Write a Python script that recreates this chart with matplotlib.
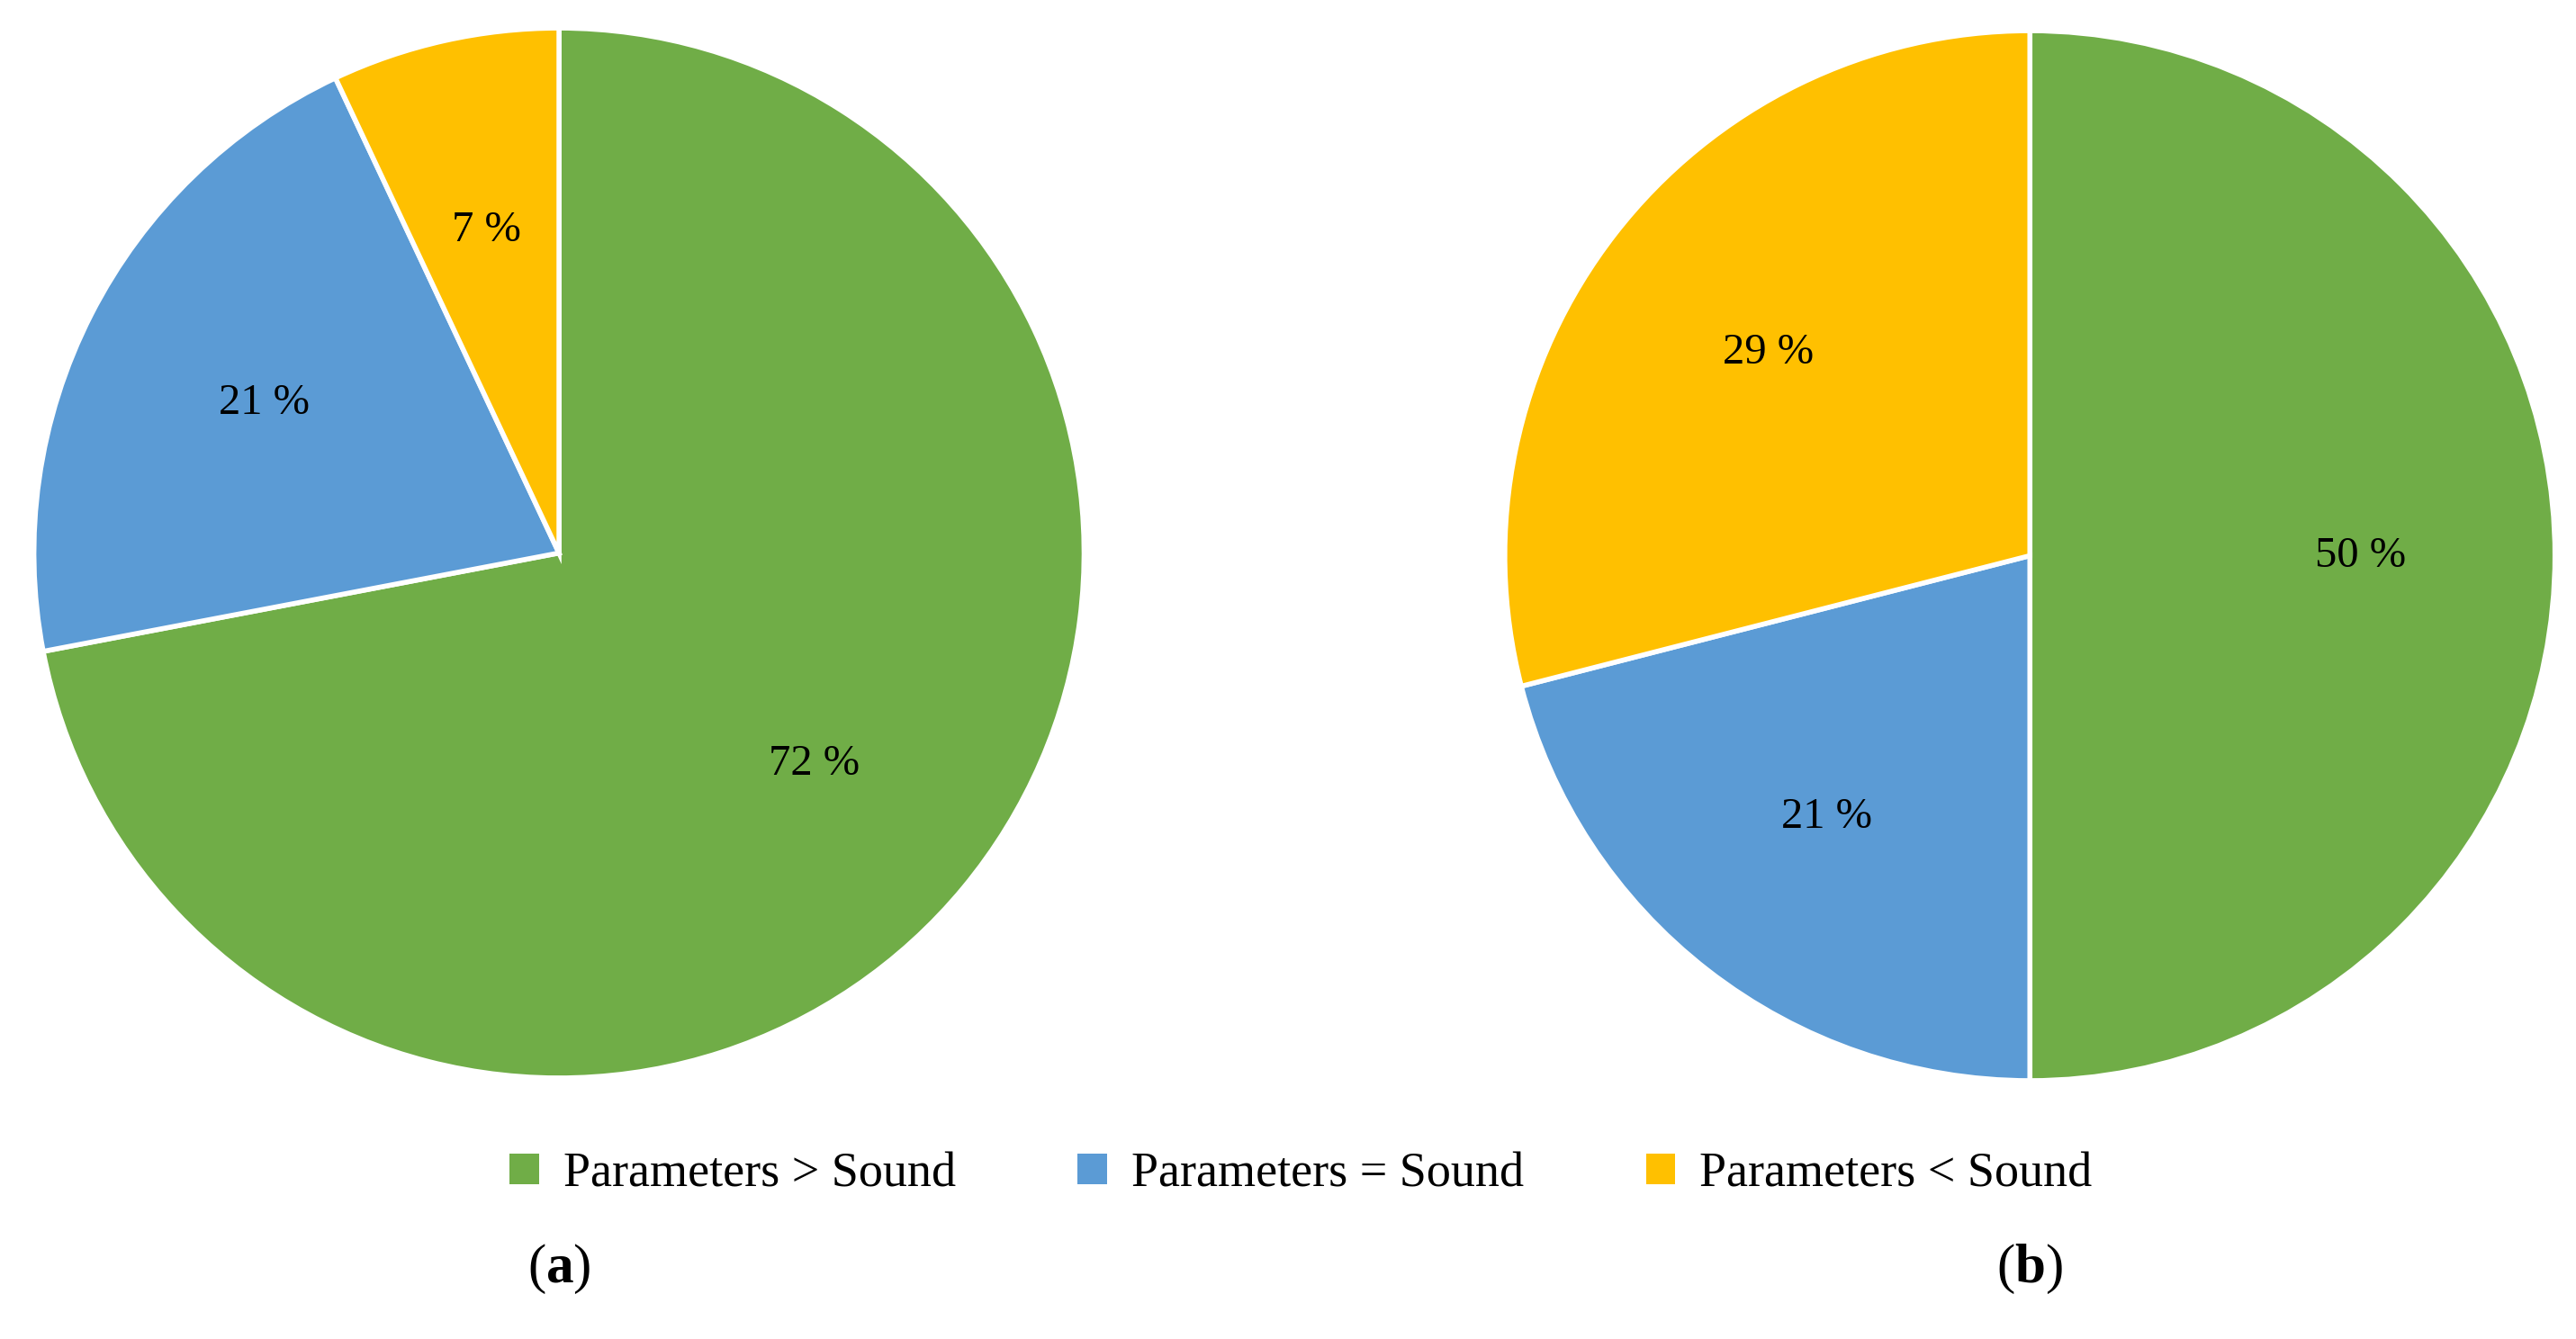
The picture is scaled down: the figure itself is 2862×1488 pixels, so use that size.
#!/usr/bin/env python3
"""Two pie charts comparing parameters vs sound."""

import matplotlib
matplotlib.use("Agg")
import matplotlib.pyplot as plt
from matplotlib.patches import Patch

categories = ["Parameters > Sound", "Parameters = Sound", "Parameters < Sound"]
values_a = [72, 21, 7]
values_b = [50, 21, 29]
captions = ["a", "b"]
colors = ["#70AD47", "#5B9BD5", "#FFC000"]

plt.rcParams["font.family"] = ["Liberation Serif", "DejaVu Serif"]
plt.rcParams["mathtext.fontset"] = "custom"
plt.rcParams["mathtext.bf"] = "Liberation Serif:bold"
plt.rcParams["mathtext.rm"] = "Liberation Serif"

W, H = 2862, 1488
fig = plt.figure(figsize=(W / 100, H / 100), dpi=100)

rw, rh = 0.206, 0.396
centers = [(0.217, 0.587), (0.788, 0.585)]

for (cx, cy), vals, cap in zip(centers, [values_a, values_b], captions):
    ax = fig.add_axes([cx - rw, cy - rh, 2 * rw, 2 * rh])
    ax.pie(vals, colors=colors, startangle=90, counterclock=False,
           autopct=lambda p: f"{p:.0f} %", pctdistance=0.63,
           wedgeprops=dict(edgecolor="white", linewidth=4),
           textprops=dict(fontsize=35, color="black"))
    ax.set_xlim(-1.01, 1.01)
    ax.set_ylim(-1.01, 1.01)
    ax.set_aspect("equal")
    ax.axis("off")
    fig.text(cx, 0.052, rf"($\mathbf{{{cap}}}$)", ha="center", va="center",
             fontsize=44)

handles = [Patch(facecolor=c, edgecolor="none") for c in colors]
fig.legend(handles, categories, loc="center", bbox_to_anchor=(0.505, 0.123),
           ncol=3, frameon=False, fontsize=39, handlelength=0.6,
           handleheight=0.6, columnspacing=2.5, handletextpad=0.5)

fig.savefig("out.png", dpi=100)
